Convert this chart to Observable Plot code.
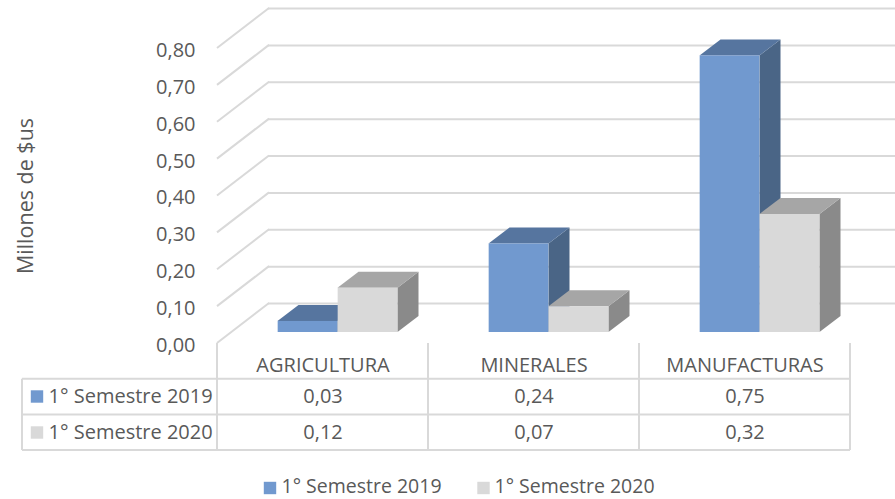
<!DOCTYPE html>
<html><head><meta charset="utf-8">
<script src="https://cdn.jsdelivr.net/npm/d3@7"></script>
<script src="https://cdn.jsdelivr.net/npm/@observablehq/plot@0.6"></script>
<style>
html,body{margin:0;padding:0;background:#fff;}
#chart svg{display:block;}
</style></head><body><div id="chart"></div>
<script>
// ---- data ----
const categories = ["AGRICULTURA", "MINERALES", "MANUFACTURAS"];
const seriesNames = ["1° Semestre 2019", "1° Semestre 2020"];
const values2019 = [0.03, 0.24, 0.75];
const values2020 = [0.12, 0.07, 0.32];
const yTicks = [0, 0.1, 0.2, 0.3, 0.4, 0.5, 0.6, 0.7, 0.8];
const yTitle = "Millones de $us";

// ---- styling / layout ----
const W = 895, H = 499, ML = 231, MR = 30, MT = 37, MB = 167;
const FRONT = {dx: -15, dy: 11};   // front wall edge relative to bar plane
const BACK = {dx: 37, dy: -29};    // back wall relative to bar plane
const DEPTH = {dx: 21, dy: -16};   // bar depth
const BAR_W = 60;
const ROW_H = 35.7;
const TABLE_LEFT = 22;
const GRID = "#d9d9d9";
const TEXT = "#595959";
const palette = [
  {front: "#7199cf", top: "#56759f", side: "#4a6586"},
  {front: "#d9d9d9", top: "#a6a6a6", side: "#8a8a8a"}
];
const seriesValues = [values2019, values2020];
const BW = (W - ML - MR) / categories.length;
const fmt = v => v.toFixed(2).replace(".", ",");

const rows = categories.flatMap((c, i) =>
  seriesNames.map((s, j) => ({category: c, series: s, value: seriesValues[j][i]})));

function depthMark(index, scales) {
  const X = scales.x, Y = scales.y, bw = X.bandwidth();
  const g = d3.create("svg:g");
  const x0 = X(categories[0]);
  g.selectAll("line").data(yTicks).join("line")
    .attr("x1", x0 + FRONT.dx).attr("y1", t => Y(t) + FRONT.dy)
    .attr("x2", x0 + BACK.dx).attr("y2", t => Y(t) + BACK.dy)
    .attr("stroke", GRID).attr("stroke-width", 2);
  const y0 = Y(0);
  categories.forEach((c, i) => {
    seriesValues.forEach((vals, j) => {
      const xl = X(c) + bw / 2 - BAR_W + j * BAR_W, xr = xl + BAR_W, yt = Y(vals[i]);
      const side = [[xr, yt], [xr + DEPTH.dx, yt + DEPTH.dy], [xr + DEPTH.dx, y0 + DEPTH.dy], [xr, y0]];
      const top = [[xl, yt], [xr, yt], [xr + DEPTH.dx, yt + DEPTH.dy], [xl + DEPTH.dx, yt + DEPTH.dy]];
      g.append("polygon").attr("points", side.join(" ")).attr("fill", palette[j].side);
      g.append("polygon").attr("points", top.join(" ")).attr("fill", palette[j].top);
    });
  });
  return g.node();
}

function tableMark(index, scales) {
  const X = scales.x, Y = scales.y, bw = X.bandwidth();
  const g = d3.create("svg:g").attr("stroke", GRID).attr("stroke-width", 2);
  const top = Y(0) + FRONT.dy;
  const edges = [...categories.map(c => X(c) + FRONT.dx), X(categories[categories.length - 1]) + bw + FRONT.dx];
  const bottom = top + ROW_H * 3;
  edges.forEach(x => g.append("line").attr("x1", x).attr("x2", x).attr("y1", top).attr("y2", bottom));
  g.append("line").attr("x1", TABLE_LEFT).attr("x2", TABLE_LEFT).attr("y1", top + ROW_H).attr("y2", bottom);
  [1, 2, 3].forEach(k => g.append("line").attr("x1", TABLE_LEFT).attr("x2", edges[edges.length - 1])
    .attr("y1", top + ROW_H * k).attr("y2", top + ROW_H * k));
  return g.node();
}

const textOpts = {fill: TEXT, fontSize: 20, stroke: null, lineAnchor: "middle"};

const marks = [
  Plot.ruleY(yTicks, {y: d => d, stroke: GRID, strokeWidth: 2, dx: BACK.dx, dy: BACK.dy}),
  depthMark,
  ...seriesNames.map((s, j) => Plot.barY(rows.filter(d => d.series === s), {
    x: "category", y: "value", fill: palette[j].front,
    insetLeft: j === 0 ? BW / 2 - BAR_W : BW / 2,
    insetRight: j === 0 ? BW / 2 : BW / 2 - BAR_W
  })),
  tableMark,
  // y tick labels
  Plot.text(yTicks, {y: d => d, text: fmt, frameAnchor: "left", dx: 195 - ML, dy: FRONT.dy + 2, textAnchor: "end", ...textOpts}),
  // y title
  Plot.text([yTitle], {text: d => d, frameAnchor: "left", dx: 26 - ML, dy: 11, rotate: -90, textAnchor: "middle", ...textOpts, fontSize: 21.5}),
  // table header
  Plot.text(categories, {x: d => d, text: d => d, frameAnchor: "bottom", dx: FRONT.dx, dy: 33.5, ...textOpts}),
  // table values
  ...seriesNames.map((s, j) => Plot.text(rows.filter(d => d.series === s), {
    x: "category", text: d => fmt(d.value), frameAnchor: "bottom", dx: FRONT.dx, dy: 64 + 36 * j, ...textOpts})),
  // table row labels
  ...seriesNames.map((s, j) => Plot.dot([s], {frameAnchor: "bottom-left", dx: 36.5 - ML, dy: 64 + 36 * j, symbol: "square", r: 7, fill: palette[j].front, stroke: null})),
  ...seriesNames.map((s, j) => Plot.text([s], {text: d => d, frameAnchor: "bottom-left", dx: 48 - ML, dy: 64 + 36 * j, textAnchor: "start", ...textOpts})),
  // legend
  ...seriesNames.map((s, j) => Plot.dot([s], {frameAnchor: "bottom-left", dx: [38.5, 252][j], dy: 155.5, symbol: "square", r: 7, fill: palette[j].front, stroke: null})),
  ...seriesNames.map((s, j) => Plot.text([s], {text: d => d, frameAnchor: "bottom-left", dx: [50, 263][j], dy: 154.5, textAnchor: "start", ...textOpts, fontSize: 19.5}))
];

const chart = Plot.plot({
  width: W, height: H,
  marginLeft: ML, marginRight: MR, marginTop: MT, marginBottom: MB,
  x: {type: "band", domain: categories, padding: 0, axis: null},
  y: {domain: [0, 0.8], axis: null},
  style: {fontFamily: "'Open Sans', sans-serif", fontSize: "20px", background: "#fff", color: TEXT, overflow: "hidden"},
  marks
});
document.getElementById("chart").appendChild(chart);
</script></body></html>
